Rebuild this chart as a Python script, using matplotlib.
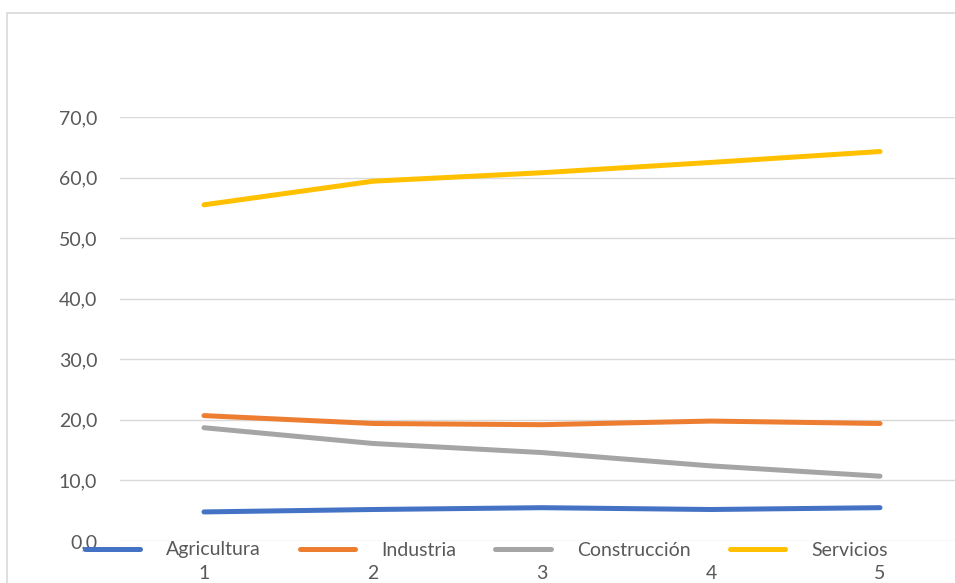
import matplotlib
matplotlib.use("Agg")
import matplotlib.pyplot as plt
from matplotlib.patches import Rectangle
from matplotlib.ticker import FuncFormatter

categories = [1, 2, 3, 4, 5]
agricultura = [4.8, 5.2, 5.5, 5.2, 5.5]
industria = [20.7, 19.4, 19.2, 19.8, 19.4]
construccion = [18.7, 16.1, 14.6, 12.4, 10.7]
servicios = [55.5, 59.4, 60.8, 62.5, 64.3]
series_names = ["Agricultura", "Industria", "Construcción", "Servicios"]
yticks = [0, 10, 20, 30, 40, 50, 60, 70]

colors = ["#4472C4", "#ED7D31", "#A5A5A5", "#FFC000"]
text_color = "#595959"
plt.rcParams['font.family'] = ['Lato', 'DejaVu Sans']

W, H = 955, 583
fig = plt.figure(figsize=(W / 100, H / 100), dpi=100)
fig.patch.set_facecolor("white")

# chart area border
fig.patches.append(Rectangle((7 / W, -0.1), 1.2, 1 - 13 / H + 0.1,
                             transform=fig.transFigure, fill=False,
                             edgecolor="#D9D9D9", linewidth=1.2, zorder=0))

left = 119.5 / W
right = 964.5 / W
bottom = 1 - 541 / H
top = 1 - 117 / H
ax = fig.add_axes([left, bottom, right - left, top - bottom])
ax.set_facecolor("none")

xs = list(range(len(categories)))
for vals, name, c in zip([agricultura, industria, construccion, servicios], series_names, colors):
    ax.plot(xs, vals, color=c, linewidth=3.6, solid_capstyle="round", label=name, zorder=3)

ax.set_xlim(-0.5, len(categories) - 0.5)
ax.set_ylim(0, 70)
ax.set_yticks(yticks)
ax.yaxis.set_major_formatter(FuncFormatter(lambda v, p: f"{v:.1f}".replace(".", ",")))
ax.set_xticks(xs)
ax.set_xticklabels([str(c) for c in categories])
ax.grid(axis="y", color="#D9D9D9", linewidth=1.0)
ax.set_axisbelow(True)
for s in ax.spines.values():
    s.set_visible(False)
ax.tick_params(axis="both", length=0, colors=text_color, labelsize=14)
ax.tick_params(axis="y", pad=16)
ax.tick_params(axis="x", pad=17)

handles, labels = ax.get_legend_handles_labels()
leg = fig.legend(handles, labels, ncol=4, loc="center left",
                 bbox_to_anchor=(67 / W, 1 - 550 / H), frameon=False,
                 fontsize=14, handlelength=2.85, handletextpad=1.35,
                 columnspacing=2.0, labelcolor=text_color)
for line in leg.get_lines():
    line.set_linewidth(3.6)

fig.savefig("out.png", dpi=100, facecolor="white")
